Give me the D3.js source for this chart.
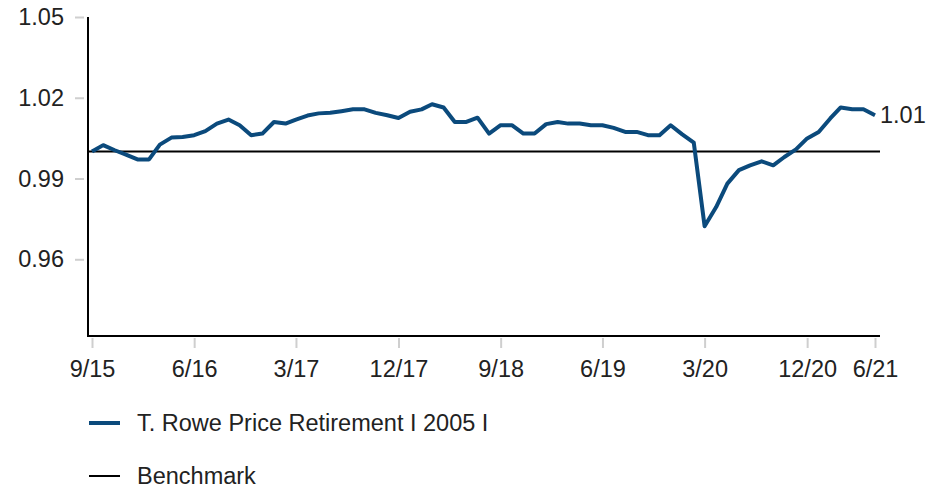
<!DOCTYPE html>
<html>
<head>
<meta charset="utf-8">
<script src="https://cdn.jsdelivr.net/npm/d3@7"></script>
<style>
  body { margin: 0; background: #fff; }
  text { font-family: "Liberation Sans", Arial, sans-serif; fill: #222; }
</style>
</head>
<body>
<div id="chart"></div>
<script>
// monthly values, 9/15 .. 6/21
var startMonth = "2015-09";
var fundName = "T. Rowe Price Retirement I 2005 I";
var benchName = "Benchmark";
var fundValues = [
  1.0000, 1.0024, 1.0005, 0.9989, 0.9971, 0.9971, 1.0026, 1.0052, 1.0054, 1.0061,
  1.0076, 1.0104, 1.0119, 1.0098, 1.0061, 1.0067, 1.0110, 1.0104, 1.0119, 1.0134,
  1.0142, 1.0144, 1.0150, 1.0157, 1.0157, 1.0144, 1.0135, 1.0125, 1.0148, 1.0157,
  1.0176, 1.0164, 1.0110, 1.0110, 1.0126, 1.0067, 1.0098, 1.0098, 1.0067, 1.0067,
  1.0102, 1.0110, 1.0104, 1.0104, 1.0098, 1.0098, 1.0088, 1.0073, 1.0073, 1.0061,
  1.0061, 1.0098, 1.0064, 1.0033, 0.9723, 0.9794, 0.9881, 0.9931, 0.9949, 0.9964,
  0.9949, 0.9980, 1.0008, 1.0049, 1.0073, 1.0123, 1.0164, 1.0157, 1.0157, 1.0135
];
var benchValue = 1.0;
var xTickLabels = ["9/15", "6/16", "3/17", "12/17", "9/18", "6/19", "3/20", "12/20", "6/21"];
var yTicks = [0.96, 0.99, 1.02, 1.05];
var yMin = 0.9315, yMax = 1.05;

var width = 941, height = 489;
var plotLeft = 88, plotRight = 880, plotTop = 17, plotBottom = 336;
var fontSize = "23.5px";

var parseMonth = d3.timeParse("%Y-%m");
var parseTick = d3.timeParse("%m/%y");
var start = parseMonth(startMonth);
var data = fundValues.map(function (v, i) {
  return { date: d3.timeMonth.offset(start, i), value: v };
});

var svg = d3.select("#chart").append("svg")
  .attr("width", width)
  .attr("height", height);

var x = d3.scaleTime()
  .domain([data[0].date, data[data.length - 1].date])
  .range([92, 875]);

var y = d3.scaleLinear()
  .domain([yMin, yMax])
  .range([plotBottom, plotTop]);

// y axis ticks + labels
var yAxis = svg.append("g")
  .attr("transform", "translate(" + (plotLeft - 4) + ",0)")
  .call(d3.axisLeft(y).tickValues(yTicks).tickFormat(d3.format(".2f")).tickSize(9).tickPadding(11));
yAxis.select(".domain").remove();
yAxis.selectAll(".tick line").attr("stroke", "#cfcfcf").attr("stroke-width", 2);
yAxis.selectAll(".tick text").style("font-size", fontSize).attr("fill", "#222");

// x axis ticks + labels
var xAxis = svg.append("g")
  .attr("transform", "translate(0," + (plotBottom + 2) + ")")
  .call(d3.axisBottom(x)
    .tickValues(xTickLabels.map(function (t) { return parseTick(t); }))
    .tickFormat(d3.timeFormat("%-m/%y"))
    .tickSize(10));
xAxis.select(".domain").remove();
xAxis.selectAll(".tick line").attr("stroke", "#cfcfcf").attr("stroke-width", 2);
xAxis.selectAll(".tick text")
  .style("font-size", fontSize)
  .attr("fill", "#222")
  .attr("y", 39)
  .attr("dy", null);

// axis lines
svg.append("line")
  .attr("x1", plotLeft).attr("x2", plotLeft)
  .attr("y1", plotTop).attr("y2", plotBottom + 1)
  .attr("stroke", "#000").attr("stroke-width", 2);
svg.append("line")
  .attr("x1", plotLeft - 1).attr("x2", plotRight)
  .attr("y1", plotBottom).attr("y2", plotBottom)
  .attr("stroke", "#000").attr("stroke-width", 2);

// benchmark
svg.append("line")
  .attr("x1", plotLeft).attr("x2", plotRight)
  .attr("y1", y(benchValue)).attr("y2", y(benchValue))
  .attr("stroke", "#000").attr("stroke-width", 2);

// fund line
var line = d3.line()
  .x(function (d) { return x(d.date); })
  .y(function (d) { return y(d.value); });

svg.append("path")
  .datum(data)
  .attr("fill", "none")
  .attr("stroke", "#0b4a7c")
  .attr("stroke-width", 4)
  .attr("stroke-linejoin", "round")
  .attr("d", line);

// end label
var last = data[data.length - 1];
svg.append("text")
  .attr("x", x(last.date) + 5)
  .attr("y", y(last.value))
  .attr("dy", "0.35em")
  .style("font-size", fontSize)
  .text(d3.format(".2f")(last.value));

// legend
var legend = [
  { name: fundName, color: "#0b4a7c", w: 4, y: 423 },
  { name: benchName, color: "#000", w: 2, y: 476 }
];
legend.forEach(function (d) {
  svg.append("line")
    .attr("x1", 89).attr("x2", 120)
    .attr("y1", d.y).attr("y2", d.y)
    .attr("stroke", d.color).attr("stroke-width", d.w);
  svg.append("text")
    .attr("x", 137).attr("y", d.y)
    .attr("dy", "0.35em")
    .style("font-size", fontSize)
    .text(d.name);
});
</script>
</body>
</html>
